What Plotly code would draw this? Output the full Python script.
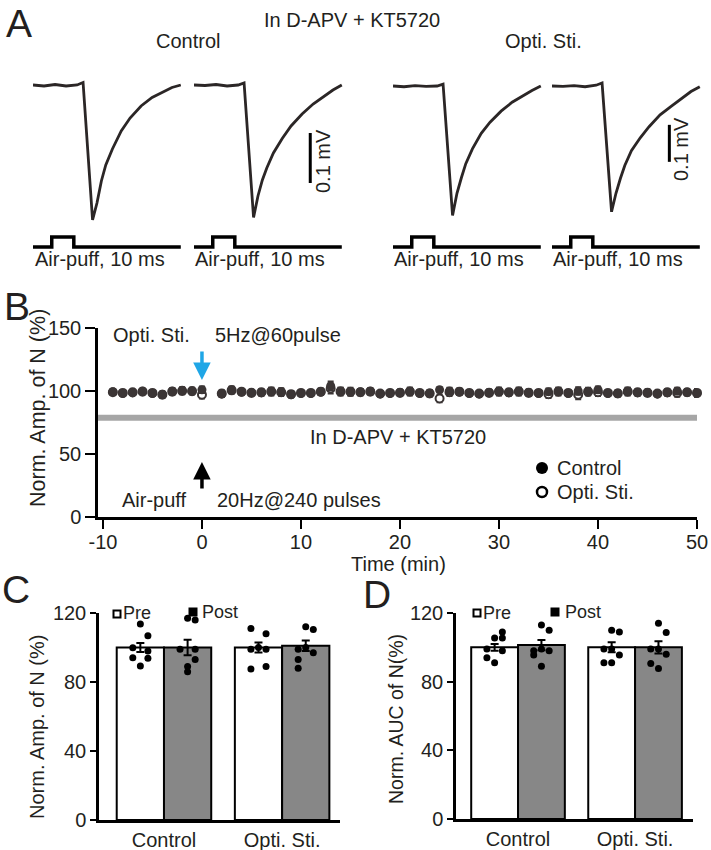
import plotly.graph_objects as go

W, H = 711, 850
FONT = "Arial, Liberation Sans, sans-serif"
INK = "#231f20"
TRACE_C = "#2b2626"
DOT_C = "#3b3535"

# ---------------- Panel A data (ms, mV) ----------------
trace_t_ms = [0, 5, 10, 15, 20, 22.7, 27, 29, 31, 33, 36, 40, 44, 49, 54, 59, 63, 67]
ctrl_pre_mv = [0, -0.002, 0.001, -0.002, 0.0, 0.005, -0.27, -0.236, -0.192, -0.16, -0.128, -0.092, -0.066, -0.042, -0.025, -0.013, -0.005, 0.0]
ctrl_post_mv = [0, -0.001, 0.001, -0.002, 0.0, 0.004, -0.265, -0.222, -0.19, -0.166, -0.136, -0.107, -0.082, -0.058, -0.038, -0.022, -0.01, 0.0]
opti_pre_mv = [0, -0.002, 0.001, -0.001, 0.0, 0.005, -0.35, -0.29, -0.248, -0.21, -0.17, -0.128, -0.098, -0.068, -0.044, -0.025, -0.012, 0.0]
opti_post_mv = [0, -0.001, 0.001, -0.002, 0.002, 0.008, -0.34, -0.29, -0.25, -0.215, -0.175, -0.14, -0.11, -0.078, -0.055, -0.032, -0.015, -0.002]
stim_t_ms = [0, 8.5, 8.5, 18.5, 18.5, 67]
stim_level = [0, 0, 1, 1, 0, 0]
scale_mv = 0.1

# ---------------- Panel B data ----------------
time_min = [-9, -8, -7, -6, -5, -4, -3, -2, -1, 0,
            2, 3, 4, 5, 6, 7, 8, 9, 10,
            11, 12, 13, 14, 15, 16, 17, 18, 19, 20,
            21, 22, 23, 24, 25, 26, 27, 28, 29, 30,
            31, 32, 33, 34, 35, 36, 37, 38, 39, 40,
            41, 42, 43, 44, 45, 46, 47, 48, 49, 50]
ctrl_amp = [99.5, 98.0, 98.5, 100.0, 98.0, 97.5, 100.0, 100.5, 99.5, 101.0,
            97.5, 101.0, 99.0, 99.0, 98.5, 100.0, 99.5, 97.0, 98.0,
            98.0, 99.0, 104.0, 100.0, 99.0, 99.5, 100.0, 97.5, 98.0, 99.0,
            100.0, 98.0, 98.5, 101.0, 100.0, 99.0, 98.0, 97.5, 99.0, 100.0,
            98.5, 100.0, 99.0, 98.0, 99.5, 100.0, 98.0, 100.0, 99.0, 101.0,
            98.0, 98.5, 100.0, 98.5, 99.0, 97.5, 98.5, 100.0, 99.0, 98.0]
ctrl_sem = [2.0, 1.5, 1.5, 1.5, 1.5, 2.0, 2.0, 2.5, 2.0, 2.5,
            2.0, 2.5, 1.5, 1.5, 2.0, 2.5, 2.5, 2.0, 1.5,
            1.5, 2.0, 3.5, 2.5, 2.5, 2.0, 2.0, 1.5, 1.5, 2.0,
            2.5, 1.5, 2.0, 2.0, 2.5, 2.0, 1.5, 1.5, 2.0, 2.5,
            2.0, 2.5, 2.0, 1.5, 2.5, 2.5, 1.5, 3.0, 2.0, 2.5,
            1.5, 2.0, 2.5, 2.0, 2.0, 1.5, 2.0, 2.5, 2.0, 2.5]
opti_amp = [99.0, 98.5, 99.0, 99.5, 98.5, 97.0, 99.5, 100.0, 100.0, 97.0,
            98.0, 100.5, 99.5, 98.5, 99.0, 99.5, 99.0, 97.5, 98.5,
            98.5, 99.5, 102.0, 99.5, 99.5, 99.0, 99.5, 98.0, 98.5, 98.5,
            99.5, 98.5, 98.0, 94.0, 99.0, 99.5, 98.5, 98.0, 98.5, 99.5,
            99.0, 99.5, 98.5, 98.5, 97.5, 99.5, 98.5, 97.0, 99.5, 99.0,
            98.5, 98.0, 99.5, 99.0, 98.5, 98.0, 99.0, 98.5, 99.0, 98.5]
opti_sem = [2.0, 2.0, 2.0, 2.0, 2.0, 2.5, 2.5, 2.5, 2.5, 3.0,
            2.5, 2.5, 2.0, 2.0, 2.5, 3.0, 3.0, 2.5, 2.0,
            2.0, 2.5, 4.0, 3.0, 3.0, 2.5, 2.5, 2.0, 2.0, 2.5,
            3.0, 2.0, 2.5, 3.0, 3.0, 2.5, 2.0, 2.0, 2.5, 3.0,
            2.5, 3.0, 2.5, 2.0, 3.0, 3.0, 2.0, 3.5, 3.0, 3.0,
            2.0, 2.5, 3.0, 2.5, 2.5, 2.0, 2.5, 3.0, 2.5, 3.0]
drug_level = 78.8
time_ticks = [-10, 0, 10, 20, 30, 40, 50]
time_tick_text = ["-10", "0", "10", "20", "30", "40", "50"]

# ---------------- Panels C / D data ----------------
groups = ["Control", "Opti. Sti."]
amp_pre_mean = [100.0, 100.0]
amp_post_mean = [100.0, 101.0]
amp_pre_sem = [2.6, 2.9]
amp_post_sem = [4.5, 3.0]
amp_pre_cells = [[113.6, 106.8, 99.8, 98.0, 94.0, 93.8, 89.3],
                 [111.0, 108.0, 99.0, 99.0, 89.0, 87.5, 100.0]]
amp_post_cells = [[117.0, 116.0, 99.0, 99.0, 93.0, 89.0, 86.0],
                  [112.0, 110.5, 99.0, 97.0, 93.0, 88.0, 100.0]]

auc_pre_mean = [100.0, 100.0]
auc_post_mean = [101.3, 100.0]
auc_pre_sem = [2.0, 2.9]
auc_post_sem = [3.0, 3.6]
auc_pre_cells = [[109.0, 105.5, 105.5, 99.0, 98.0, 94.0, 91.0],
                 [110.0, 109.0, 99.0, 99.0, 95.5, 91.0, 91.0]]
auc_post_cells = [[113.0, 110.0, 98.0, 98.0, 99.0, 95.5, 89.0],
                  [114.0, 108.6, 99.0, 96.0, 90.6, 87.7, 99.0]]

# jitter columns (style: horizontal spread of dots inside a bar)
amp_pre_cols = [[0, 1, -1, 1, -1, 1, 0], [-1, 1, -1, 1, 1, -1, 0]]
amp_post_cols = [[0, 1, -1, 1, 1, 0, 0], [0, 1, -1, 1, -1, -1, 0]]
auc_pre_cols = [[1, 0, 1, -1, 1, -1, 0], [0, 1, -1, 0, 1, -1, 0]]
auc_post_cols = [[0, 1, -1, 1, 0, -1, 0], [0, 1, -1, 1, -1, 0, 0]]


def fx(px):
    return px / W


def fy(py):
    return 1 - py / H


def dx(a, b):
    return [fx(a), fx(b)]


def dy(top, bottom):
    return [fy(bottom), fy(top)]


fig = go.Figure()

# ---------- Panel A ----------
a_traces = [(ctrl_pre_mv, "x", "y"), (ctrl_post_mv, "x2", "y"),
            (opti_pre_mv, "x3", "y2"), (opti_post_mv, "x4", "y2")]
for vals, xa, ya in a_traces:
    fig.add_trace(go.Scatter(x=trace_t_ms, y=vals, xaxis=xa, yaxis=ya, mode="lines",
                             line=dict(color=TRACE_C, width=2.8), showlegend=False,
                             hoverinfo="skip"))
    fig.add_trace(go.Scatter(x=stim_t_ms, y=stim_level, xaxis=xa, yaxis="y3", mode="lines",
                             line=dict(color="black", width=3.5), showlegend=False,
                             hoverinfo="skip"))

# scale bars (0.1 mV)
fig.add_shape(type="line", xref="x2", yref="y", x0=52.7, x1=52.7, y0=-0.096, y1=-0.096 - scale_mv,
              line=dict(color="black", width=3))
fig.add_shape(type="line", xref="x4", yref="y2", x0=53.2, x1=53.2, y0=-0.105, y1=-0.105 - scale_mv,
              line=dict(color="black", width=3))

# ---------- Panel B ----------
fig.add_shape(type="line", xref="x5 domain", yref="y4", x0=0, x1=1, y0=drug_level, y1=drug_level,
              line=dict(color="#a6a6a6", width=6), layer="below")
fig.add_trace(go.Scatter(x=time_min, y=opti_amp, xaxis="x5", yaxis="y4", mode="markers",
                         marker=dict(symbol="circle", size=8, color="white",
                                     line=dict(color=DOT_C, width=2)),
                         error_y=dict(type="data", array=opti_sem, color=DOT_C, thickness=2, width=3),
                         showlegend=False, cliponaxis=False, hoverinfo="skip"))
fig.add_trace(go.Scatter(x=time_min, y=ctrl_amp, xaxis="x5", yaxis="y4", mode="markers",
                         marker=dict(symbol="circle", size=9, color=DOT_C,
                                     line=dict(color=DOT_C, width=0)),
                         error_y=dict(type="data", array=ctrl_sem, color=DOT_C, thickness=2, width=3),
                         showlegend=False, cliponaxis=False, hoverinfo="skip"))

# ---------- Panels C & D ----------
bar_w = 0.4
jit_c = 0.064
jit_d = 0.066


def bar_panel(xa, ya, pre_m, post_m, pre_s, post_s, pre_cells, post_cells, pre_cols, post_cols, jit):
    xs = list(range(len(groups)))
    fig.add_trace(go.Bar(x=xs, y=pre_m, xaxis=xa, yaxis=ya, width=bar_w, offset=-bar_w,
                         marker=dict(color="white", line=dict(color="black", width=2)),
                         error_y=dict(type="data", array=pre_s, color="black", thickness=2, width=4),
                         showlegend=False, hoverinfo="skip"))
    fig.add_trace(go.Bar(x=xs, y=post_m, xaxis=xa, yaxis=ya, width=bar_w, offset=0,
                         marker=dict(color="#878787", line=dict(color="black", width=2)),
                         error_y=dict(type="data", array=post_s, color="black", thickness=2, width=4),
                         showlegend=False, hoverinfo="skip"))
    for gi in xs:
        for cells, cols, center in ((pre_cells, pre_cols, gi - bar_w / 2),
                                    (post_cells, post_cols, gi + bar_w / 2)):
            fig.add_trace(go.Scatter(x=[center + c * jit for c in cols[gi]], y=cells[gi],
                                     xaxis=xa, yaxis=ya, mode="markers",
                                     marker=dict(color="black", size=7),
                                     showlegend=False, cliponaxis=False, hoverinfo="skip"))


bar_panel("x6", "y5", amp_pre_mean, amp_post_mean, amp_pre_sem, amp_post_sem,
          amp_pre_cells, amp_post_cells, amp_pre_cols, amp_post_cols, jit_c)
bar_panel("x7", "y6", auc_pre_mean, auc_post_mean, auc_pre_sem, auc_post_sem,
          auc_pre_cells, auc_post_cells, auc_pre_cols, auc_post_cols, jit_d)

# ---------- Layout / axes ----------
hidden = dict(visible=False, showgrid=False, zeroline=False, fixedrange=True, automargin=False)
lay = dict(
    width=W, height=H, margin=dict(l=0, r=0, t=0, b=0, pad=0, autoexpand=False),
    paper_bgcolor="white", plot_bgcolor="rgba(0,0,0,0)",
    font=dict(family=FONT, size=20, color=INK),
    showlegend=False, barmode="overlay",
)
lay["xaxis"] = dict(hidden, domain=dx(33, 183), range=[0, 68], anchor="y")
lay["xaxis2"] = dict(hidden, domain=dx(194, 344), range=[0, 68], anchor="y")
lay["xaxis3"] = dict(hidden, domain=dx(393, 543), range=[0, 68], anchor="y2")
lay["xaxis4"] = dict(hidden, domain=dx(552, 702), range=[0, 68], anchor="y2")
lay["yaxis"] = dict(hidden, domain=dy(70, 235), range=[-0.30, 0.03], anchor="x")
lay["yaxis2"] = dict(hidden, domain=dy(70, 235), range=[-0.4027, 0.0432], anchor="x3")
lay["yaxis3"] = dict(hidden, domain=dy(228, 252), range=[-0.5, 1.9], anchor="x")

axis_common = dict(showline=True, linecolor="black", linewidth=2.5, showgrid=False, zeroline=False,
                   ticks="outside", tickwidth=2, tickcolor="black", automargin=False,
                   tickfont=dict(family=FONT, size=20, color=INK), fixedrange=True)

lay["xaxis5"] = dict(axis_common, domain=dx(98, 697), range=[-10.5, 50], anchor="y4",
                     tickvals=time_ticks, ticktext=time_tick_text, ticklen=9,
                     ticklabelstandoff=-4)
lay["yaxis4"] = dict(axis_common, domain=dy(328, 517), range=[0, 150], anchor="x5",
                     tickvals=[0, 50, 100, 150], ticklen=10)

lay["xaxis6"] = dict(axis_common, domain=dx(99, 340), range=[-0.55, 1.49], anchor="y5",
                     tickvals=[0, 1], ticktext=groups, ticks="")
lay["yaxis5"] = dict(axis_common, domain=dy(613, 820), range=[0, 120], anchor="x6",
                     tickvals=[0, 40, 80, 120], ticklen=6)
lay["xaxis7"] = dict(axis_common, domain=dx(456, 693), range=[-0.53, 1.495], anchor="y6",
                     tickvals=[0, 1], ticktext=groups, ticks="")
lay["yaxis6"] = dict(axis_common, domain=dy(613, 819), range=[0, 120], anchor="x7",
                     tickvals=[0, 40, 80, 120], ticklen=6)
fig.update_layout(**lay)

annots = []


def txt(text, x, y, size=20, xanchor="center", angle=0):
    annots.append(dict(text=text, x=fx(x), y=fy(y), xref="paper", yref="paper",
                       xanchor=xanchor, yanchor="middle", showarrow=False, textangle=angle,
                       font=dict(family=FONT, size=size, color=INK)))


# panel letters
txt("A", 19, 23, size=39)
txt("B", 17, 306, size=39)
txt("C", 16, 589, size=39)
txt("D", 377, 594, size=39)

# panel A text
txt("In D-APV + KT5720", 352, 20)
txt("Control", 188, 41)
txt("Opti. Sti.", 543, 41)
for cx in (100, 260, 459, 618):
    txt("Air-puff, 10 ms", cx, 259)
txt("0.1 mV", 323, 161, angle=-90)
txt("0.1 mV", 681, 149, angle=-90)

# panel B text
txt("Opti. Sti.", 151.5, 335)
txt("5Hz@60pulse", 277.5, 335)
txt("Air-puff", 154.5, 500)
txt("20Hz@240 pulses", 299, 500)
txt("In D-APV + KT5720", 398, 437)
txt("Control", 555, 468, xanchor="left")
txt("Opti. Sti.", 555, 492, xanchor="left")
txt("Time (min)", 398, 564)
txt("Norm. Amp. of N (%)", 38, 408, size=21.5, angle=-90)

# panel C / D text
txt("Norm. Amp. of N (%)", 37, 727, size=20, angle=-90)
txt("Norm. AUC of N(%)", 396, 719, size=19.5, angle=-90)
txt("Pre", 121, 613, size=18, xanchor="left")
txt("Post", 200, 612, size=18, xanchor="left")
txt("Pre", 481, 613, size=18, xanchor="left")
txt("Post", 563, 612, size=18, xanchor="left")

# arrows in B
annots.append(dict(x=0, y=108.7, xref="x5", yref="y4", ax=0, ay=-30, text="", showarrow=True,
                   arrowhead=2, arrowsize=1, arrowwidth=3.5, arrowcolor="#1fa6e6", standoff=0))
annots.append(dict(x=0, y=43.7, xref="x5", yref="y4", ax=0, ay=28, text="", showarrow=True,
                   arrowhead=2, arrowsize=1, arrowwidth=3.5, arrowcolor="black", standoff=0))
fig.update_layout(annotations=annots)

# legend symbols (decorations)
shapes = []


def circ(cx, cy, r, fill, lw):
    shapes.append(dict(type="circle", xref="paper", yref="paper",
                       x0=fx(cx - r), x1=fx(cx + r), y0=fy(cy + r), y1=fy(cy - r),
                       fillcolor=fill, line=dict(color="black", width=lw)))


def sq(cx, cy, r, fill):
    shapes.append(dict(type="rect", xref="paper", yref="paper",
                       x0=fx(cx - r), x1=fx(cx + r), y0=fy(cy + r), y1=fy(cy - r),
                       fillcolor=fill, line=dict(color="black", width=2)))


circ(542, 468, 6, "black", 0)
circ(542, 492, 5, "white", 2.5)
sq(117, 614, 3.5, "white")
sq(193, 612, 3.5, "black")
sq(477, 613, 3.5, "white")
sq(555, 612, 3.5, "black")
for s in shapes:
    fig.add_shape(**s)

fig.write_html("out.html")
